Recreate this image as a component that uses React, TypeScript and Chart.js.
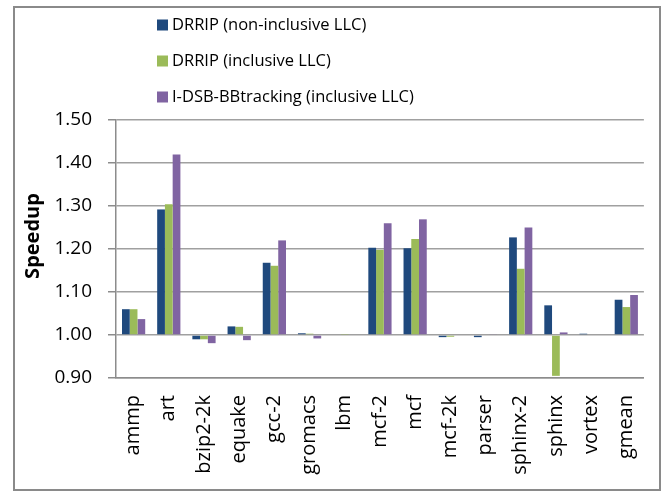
import React, { useEffect, useRef } from "react";
import { Chart, registerables } from "chart.js";

Chart.register(...registerables);

const categories = [
  "ammp", "art", "bzip2-2k", "equake", "gcc-2", "gromacs", "lbm", "mcf-2",
  "mcf", "mcf-2k", "parser", "sphinx-2", "sphinx", "vortex", "gmean",
];
const seriesNames = [
  "DRRIP (non-inclusive LLC)",
  "DRRIP (inclusive LLC)",
  "I-DSB-BBtracking (inclusive LLC)",
];
const drripNonInclusive = [1.060, 1.292, 0.990, 1.020, 1.168, 1.004, 1.000, 1.203, 1.202, 0.995, 0.995, 1.227, 1.069, 1.003, 1.082];
const drripInclusive = [1.060, 1.304, 0.990, 1.019, 1.161, 1.003, 1.001, 1.198, 1.223, 0.996, 1.000, 1.154, 0.905, 1.000, 1.065];
const idsbTracking = [1.037, 1.420, 0.981, 0.988, 1.220, 0.992, 1.000, 1.260, 1.269, 1.000, 1.002, 1.250, 1.006, 1.000, 1.093];
const seriesColors = ["#1F497D", "#9BBB59", "#8064A2"];
const yTitle = "Speedup";

const FONT = "'Open Sans', 'Noto Sans', sans-serif";

const decorPlugin = {
  id: "decor",
  beforeDraw(chart: any) {
    const ctx = chart.ctx;
    ctx.save();
    ctx.fillStyle = "#ffffff";
    ctx.fillRect(0, 0, chart.width, chart.height);
    ctx.strokeStyle = "#8a8a8a";
    ctx.lineWidth = 2;
    ctx.strokeRect(14, 7, 646, 483);
    ctx.restore();
  },
  afterDraw(chart: any) {
    const ctx = chart.ctx;
    ctx.save();
    const rowsY = [25, 61, 97];
    ctx.font = `16.5px ${FONT}`;
    ctx.textBaseline = "middle";
    ctx.textAlign = "left";
    chart.data.datasets.forEach((ds: any, i: number) => {
      const cy = rowsY[i];
      ctx.fillStyle = ds.backgroundColor;
      ctx.fillRect(157, cy - 5.5, 11, 11);
      ctx.fillStyle = "#000000";
      ctx.fillText(ds.label, 172, cy);
    });
    ctx.translate(33, 236);
    ctx.rotate(-Math.PI / 2);
    ctx.font = `bold 20px ${FONT}`;
    ctx.textAlign = "center";
    ctx.fillStyle = "#000000";
    ctx.fillText(yTitle, 0, 0);
    ctx.restore();
  },
};

const isMajor = (v: number) => Math.round(v * 20) % 2 === 0;

export default function App() {
  const ref = useRef<HTMLCanvasElement>(null);
  useEffect(() => {
    const values = [drripNonInclusive, drripInclusive, idsbTracking];
    const chart = new Chart(ref.current as HTMLCanvasElement, {
      type: "bar",
      data: {
        labels: categories,
        datasets: values.map((d, i) => ({
          label: seriesNames[i],
          data: d,
          base: 1,
          backgroundColor: seriesColors[i],
          borderWidth: 0,
          categoryPercentage: 0.66,
          barPercentage: 1.0,
        })),
      },
      options: {
        animation: false,
        responsive: false,
        devicePixelRatio: 1,
        layout: { padding: { left: 0, right: 21, top: 120, bottom: 0 } },
        plugins: {
          legend: { display: false },
          tooltip: { enabled: false },
        },
        scales: {
          x: {
            grid: { display: false, drawTicks: false },
            border: { display: true, color: "#8c8c8c", width: 1.5 },
            ticks: {
              autoSkip: false,
              maxRotation: 90,
              minRotation: 90,
              padding: 17,
              color: "#000000",
              font: { family: FONT, size: 20 },
            },
            afterFit: (s: any) => { s.height = 114; },
          },
          y: {
            min: 0.9,
            max: 1.5,
            grid: {
              color: "#a0a0a0",
              lineWidth: 1.5,
              tickLength: 8,
              tickColor: (c: any) => (c.tick && isMajor(c.tick.value) ? "#8c8c8c" : "rgba(0,0,0,0)"),
            },
            border: { display: true, color: "#8c8c8c", width: 1.5 },
            ticks: {
              stepSize: 0.05,
              padding: 16,
              color: "#000000",
              font: { family: FONT, size: 19 },
              callback: (v: any) => (isMajor(Number(v)) ? Number(v).toFixed(2) : ""),
            },
            afterFit: (s: any) => { s.width = 116; },
          },
        },
      },
      plugins: [decorPlugin],
    });
    return () => chart.destroy();
  }, []);
  return (
    <div style={{ position: "fixed", left: 0, top: 0, width: 668, height: 492, background: "#fff" }}>
      <canvas ref={ref} width={668} height={492} style={{ display: "block" }} />
    </div>
  );
}
